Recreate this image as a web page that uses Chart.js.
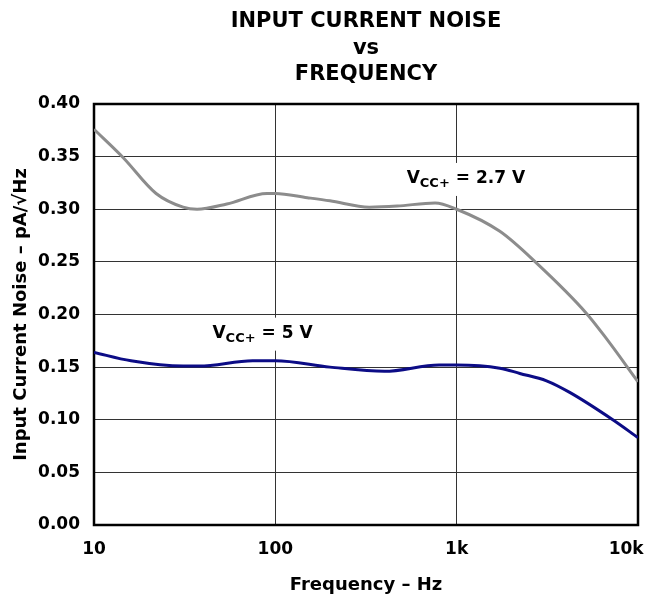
<!DOCTYPE html>
<html>
<head>
<meta charset="utf-8">
<script src="https://cdn.jsdelivr.net/npm/chart.js@4/dist/chart.umd.min.js"></script>
<style>
  body { margin: 0; background: #fff; }
</style>
</head>
<body>
<canvas id="noiseChart" width="646" height="599"></canvas>
<script>
  var titleLines = ["INPUT CURRENT NOISE", "vs", "FREQUENCY"];

  // x tick values (Hz) and their labels
  var tickValues = [10, 100, 1000, 10000];
  var tickLabels = ["10", "100", "1k", "10k"];

  // VCC+ = 2.7 V
  var freq27 = [10, 14.5, 22, 31, 37, 54, 90, 100, 150, 200, 330, 470, 760, 1000, 1730, 2750, 5200, 6700, 10000];
  var noise27 = [0.376, 0.349, 0.315, 0.302, 0.300, 0.305, 0.315, 0.315, 0.311, 0.308, 0.302, 0.303, 0.306, 0.300, 0.279, 0.249, 0.201, 0.177, 0.136];

  // VCC+ = 5 V
  var freq5 = [10, 16, 31, 38, 75, 100, 200, 400, 800, 1000, 1730, 2230, 3130, 4200, 7260, 10000];
  var noise5 = [0.164, 0.156, 0.151, 0.151, 0.156, 0.156, 0.150, 0.146, 0.152, 0.152, 0.149, 0.144, 0.137, 0.126, 0.100, 0.083];

  // curve labels, anchored in data units (left edge / baseline)
  var labelValues = ["2.7 V", "5 V"];
  var labelFreq = [530, 45];
  var labelNoise = [0.325, 0.178];

  function toPoints(xs, ys) {
    return xs.map(function(f, i) { return { x: f, y: ys[i] }; });
  }

  Chart.defaults.font.family = "'DejaVu Sans', sans-serif";
  Chart.defaults.font.weight = "bold";
  Chart.defaults.color = "#000";

  var extras = {
    id: "extras",
    beforeDatasetsDraw: function(chart) {
      var ctx = chart.ctx;
      var a = chart.chartArea;
      var sx = chart.scales.x, sy = chart.scales.y;
      ctx.save();

      // plot frame
      ctx.strokeStyle = "#000";
      ctx.lineWidth = 2.5;
      ctx.strokeRect(a.left, a.top, a.right - a.left, a.bottom - a.top);

      // VCC+ labels with white backing
      labelValues.forEach(function(txt, i) {
        var x = sx.getPixelForValue(labelFreq[i]);
        var y = sy.getPixelForValue(labelNoise[i]);
        var big = "bold 17px 'DejaVu Sans'";
        var small = "bold 13px 'DejaVu Sans'";
        ctx.font = big;
        var w1 = ctx.measureText("V").width;
        var w3 = ctx.measureText(" = " + txt).width;
        ctx.font = small;
        var w2 = ctx.measureText("CC+").width;
        ctx.fillStyle = "#fff";
        ctx.fillRect(x - 6, y - 20, w1 + w2 + w3 + 12, 33);
        ctx.fillStyle = "#000";
        ctx.textAlign = "left";
        ctx.textBaseline = "alphabetic";
        ctx.font = big;
        ctx.fillText("V", x, y);
        ctx.font = small;
        ctx.fillText("CC+", x + w1, y + 4);
        ctx.font = big;
        ctx.fillText(" = " + txt, x + w1 + w2, y);
      });
      ctx.restore();
    },
    afterDraw: function(chart) {
      var ctx = chart.ctx;
      var a = chart.chartArea;
      ctx.save();
      ctx.font = "bold 21px 'DejaVu Sans'";
      ctx.fillStyle = "#000";
      ctx.textAlign = "center";
      ctx.textBaseline = "alphabetic";
      titleLines.forEach(function(t, i) {
        ctx.fillText(t, (a.left + a.right) / 2, 27 + i * 26.5);
      });
      ctx.restore();
    }
  };

  var ctx = document.getElementById("noiseChart").getContext("2d");

  new Chart(ctx, {
    type: "line",
    data: {
      datasets: [{
        label: "VCC+ = 2.7 V",
        data: toPoints(freq27, noise27),
        borderColor: "#8c8c8c",
        borderWidth: 3,
        pointRadius: 0,
        cubicInterpolationMode: "monotone",
        fill: false
      }, {
        label: "VCC+ = 5 V",
        data: toPoints(freq5, noise5),
        borderColor: "#0c0c86",
        borderWidth: 3,
        pointRadius: 0,
        cubicInterpolationMode: "monotone",
        fill: false
      }]
    },
    options: {
      responsive: false,
      animation: false,
      devicePixelRatio: 1,
      layout: { padding: { top: 104, right: 8, left: 0, bottom: 0 } },
      plugins: {
        legend: { display: false },
        tooltip: { enabled: false }
      },
      scales: {
        x: {
          type: "logarithmic",
          min: 10,
          max: 10000,
          afterBuildTicks: function(scale) {
            scale.ticks = tickValues.map(function(v) { return { value: v }; });
          },
          afterFit: function(scale) {
            scale.height = 74;
            scale.paddingRight = 0;
          },
          grid: { color: "#333", lineWidth: 1, drawTicks: false },
          border: { display: false },
          ticks: {
            autoSkip: false,
            maxRotation: 0,
            padding: 14,
            font: { size: 17, weight: "bold" },
            callback: function(value) {
              var i = tickValues.indexOf(value);
              if (i === tickValues.length - 1) return tickLabels[i] + "\u2007\u2007";
              return i >= 0 ? tickLabels[i] : "";
            }
          },
          title: {
            display: true,
            text: "Frequency – Hz",
            font: { size: 18, weight: "bold" },
            padding: { top: 0, bottom: 3 }
          }
        },
        y: {
          min: 0,
          max: 0.4,
          afterFit: function(scale) {
            scale.width = 94;
          },
          grid: { color: "#333", lineWidth: 1, drawTicks: false },
          border: { display: false },
          ticks: {
            stepSize: 0.05,
            padding: 14,
            font: { size: 17, weight: "bold" },
            callback: function(value) { return value.toFixed(2); }
          },
          title: {
            display: true,
            text: "Input Current Noise – pA/√Hz",
            font: { size: 18, weight: "bold" },
            padding: { top: 11, bottom: 0 }
          }
        }
      }
    },
    plugins: [extras]
  });
</script>
</body>
</html>
